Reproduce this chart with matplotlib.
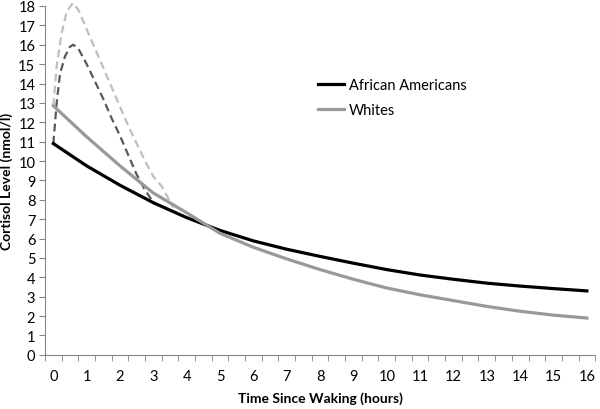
import matplotlib
matplotlib.use('Agg')
import matplotlib.pyplot as plt
import numpy as np

# 每小时的皮质醇水平
hours = list(range(0, 17))
african_americans = [10.9, 9.75, 8.75, 7.85, 7.08, 6.42, 5.88, 5.45, 5.08, 4.73, 4.4, 4.12, 3.9, 3.7, 3.55, 3.42, 3.3]
whites = [12.85, 11.25, 9.75, 8.35, 7.33, 6.27, 5.55, 4.95, 4.4, 3.9, 3.45, 3.1, 2.8, 2.5, 2.25, 2.05, 1.9]

# 觉醒反应（虚线）
aa_car_t = [0, 0.1, 0.2, 0.35, 0.5, 0.6, 0.75, 1.0, 1.25, 1.5, 1.75, 2.0, 2.25, 2.5, 2.75, 3.05]
aa_car_v = [10.9, 13.0, 14.5, 15.4, 15.9, 16.0, 15.8, 15.0, 14.1, 13.2, 12.2, 11.3, 10.3, 9.3, 8.5, 7.75]
wh_car_t = [0, 0.1, 0.25, 0.4, 0.58, 0.75, 1.0, 1.25, 1.5, 1.75, 2.0, 2.25, 2.5, 2.75, 3.0, 3.25, 3.6]
wh_car_v = [12.85, 14.9, 16.6, 17.7, 18.15, 17.8, 16.8, 15.8, 14.8, 13.8, 12.8, 11.8, 10.9, 10.0, 9.2, 8.7, 7.6]

plt.rcParams['font.family'] = ['Lato', 'DejaVu Sans']

fig = plt.figure(figsize=(6, 4.1), dpi=100)
ax = fig.add_axes([0.075, 0.132, 0.917, 0.851])

ax.plot(wh_car_t, wh_car_v, color='#bfbfbf', lw=1.6, ls=(0, (3.5, 2)), clip_on=False)
ax.plot(aa_car_t, aa_car_v, color='#595959', lw=1.6, ls=(0, (3.5, 2)))
ax.plot(hours, african_americans, color='black', lw=2.3, label='African Americans')
ax.plot(hours, whites, color='#999999', lw=2.3, label='Whites')

ax.set_xlim(-0.25, 16.25)
ax.set_ylim(0, 18)
ax.set_yticks(range(0, 19))
ax.set_xticks(range(0, 17))
ax.set_xticks(np.arange(-0.25, 16.3, 0.5), minor=True)
ax.tick_params(axis='x', which='major', length=0, pad=10, labelsize=10.5)
ax.tick_params(axis='x', which='minor', length=4, color='#868686', direction='out')
ax.tick_params(axis='y', length=4, color='#868686', direction='out', labelsize=10.5, pad=3)

for s in ['top', 'right']:
    ax.spines[s].set_visible(False)
for s in ['left', 'bottom']:
    ax.spines[s].set_color('#868686')

ax.set_xlabel('Time Since Waking (hours)', fontsize=10, fontweight='bold', labelpad=6)
ax.set_ylabel('Cortisol Level (nmol/l)', fontsize=10, fontweight='bold', labelpad=4)

ax.legend(loc='upper left', bbox_to_anchor=(0.508, 0.84), bbox_transform=fig.transFigure,
          frameon=False, fontsize=10.5, handlelength=1.8, handletextpad=0.3, labelspacing=0.75)

fig.savefig('out.png', dpi=100)
